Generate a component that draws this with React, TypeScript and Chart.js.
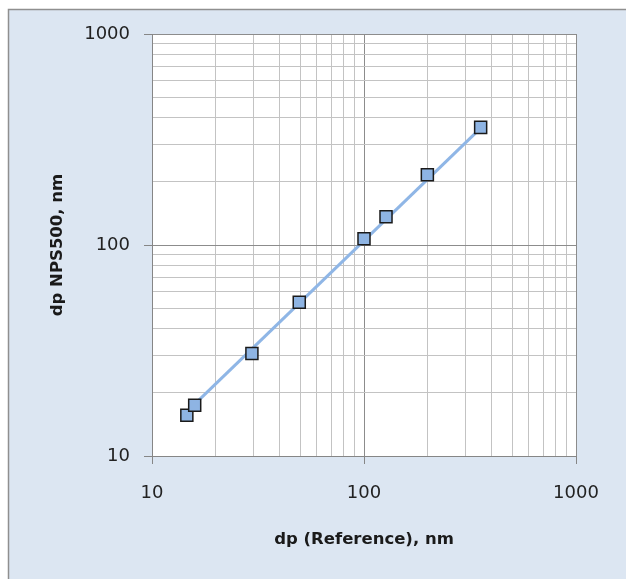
import React, { useEffect, useRef } from "react";
import { Chart, registerables } from "chart.js";

Chart.register(...registerables);

const refDiameter = [14.6, 15.9, 29.6, 49.5, 100, 127, 199, 355];
const npsDiameter = [15.6, 17.4, 30.6, 53.6, 107, 136, 215, 361];

// Trend line endpoints
const trendX = [15.9, 355];
const trendY = [17.6, 358];

// Axis tick values (log decades with minor subdivisions)
const axisTicks = [10, 20, 30, 40, 50, 60, 70, 80, 90, 100, 200, 300, 400, 500, 600, 700, 800, 900, 1000];
const majorTicks = [10, 100, 1000];

const xTitle = "dp (Reference), nm";
const yTitle = "dp NPS500, nm";

const TICK_FONT = { family: "DejaVu Sans", size: 18 };
const TITLE_FONT = { family: "DejaVu Sans", size: 16.5, weight: "bold" as const };

const isMajor = (v: number) => majorTicks.includes(v);

const bgPlugin = {
  id: "bgPlugin",
  beforeDraw(chart: any) {
    const { ctx, chartArea } = chart;
    ctx.save();
    ctx.fillStyle = "#dce6f2";
    ctx.fillRect(8, 9, 700, 700);
    ctx.strokeStyle = "#8f8f8f";
    ctx.lineWidth = 1.5;
    ctx.strokeRect(8.5, 9.5, 700, 700);
    ctx.fillStyle = "#ffffff";
    ctx.fillRect(chartArea.left, chartArea.top, chartArea.right - chartArea.left, chartArea.bottom - chartArea.top);
    ctx.restore();
  },
};

export default function App() {
  const ref = useRef<HTMLCanvasElement | null>(null);
  useEffect(() => {
    if (!ref.current) return;
    const makeTicks = (scale: any) => {
      scale.ticks = axisTicks.map((v) => ({ value: v }));
    };
    const gridOpts = {
      color: (c: any) => (c.tick && isMajor(c.tick.value) ? "#8c8c8c" : "#c3c3c3"),
      tickColor: (c: any) => (c.tick && isMajor(c.tick.value) ? "#868686" : "rgba(0,0,0,0)"),
      tickLength: 8,
      lineWidth: 1,
    };
    const chart = new Chart(ref.current, {
      type: "scatter",
      data: {
        datasets: [
          {
            type: "scatter",
            data: refDiameter.map((x, i) => ({ x, y: npsDiameter[i] })),
            pointStyle: "rect",
            pointRadius: 8.5,
            pointHoverRadius: 8.5,
            backgroundColor: "#8eb4e3",
            borderColor: "#1a1a1a",
            borderWidth: 1.5,
            order: 0,
          },
          {
            type: "line",
            data: trendX.map((x, i) => ({ x, y: trendY[i] })),
            borderColor: "#8fb6e6",
            borderWidth: 3,
            pointRadius: 0,
            showLine: true,
            fill: false,
            order: 1,
          } as any,
        ],
      },
      options: {
        animation: false,
        responsive: false,
        maintainAspectRatio: false,
        layout: { padding: { left: 0, right: 50, top: 34, bottom: 0 } },
        plugins: { legend: { display: false }, tooltip: { enabled: false } },
        scales: {
          x: {
            type: "logarithmic",
            min: 10,
            max: 1000,
            afterBuildTicks: makeTicks,
            afterFit: (s: any) => {
              s.height = 123;
            },
            grid: gridOpts as any,
            border: { color: "#868686", width: 1 },
            ticks: {
              autoSkip: false,
              maxRotation: 0,
              padding: 19,
              color: "#222222",
              font: TICK_FONT,
              callback: (v: any) => (isMajor(Number(v)) ? String(v) : ""),
            },
            title: {
              display: true,
              text: xTitle,
              color: "#1a1a1a",
              font: TITLE_FONT,
              padding: { top: 0, bottom: 29 },
            },
          },
          y: {
            type: "logarithmic",
            min: 10,
            max: 1000,
            afterBuildTicks: makeTicks,
            afterFit: (s: any) => {
              s.width = 152;
            },
            grid: gridOpts as any,
            border: { color: "#868686", width: 1 },
            ticks: {
              autoSkip: false,
              padding: 14,
              color: "#222222",
              font: TICK_FONT,
              callback: (v: any) => (isMajor(Number(v)) ? String(v) : ""),
            },
            title: {
              display: true,
              text: yTitle,
              color: "#1a1a1a",
              font: TITLE_FONT,
              padding: { top: 48, bottom: 0 },
            },
          },
        },
      },
      plugins: [bgPlugin],
    });
    return () => chart.destroy();
  }, []);
  return (
    <div style={{ position: "fixed", left: 0, top: 0, width: 626, height: 579, overflow: "hidden" }}>
      <canvas ref={ref} width={626} height={579} style={{ display: "block", width: 626, height: 579 }} />
    </div>
  );
}
